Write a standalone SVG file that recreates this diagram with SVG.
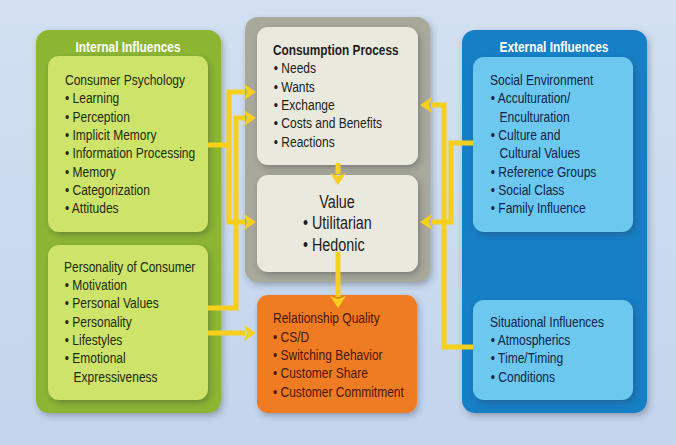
<svg xmlns="http://www.w3.org/2000/svg" width="676" height="445" viewBox="0 0 676 445">
<defs>
<linearGradient id="bg" x1="0" y1="0" x2="0" y2="1">
<stop offset="0" stop-color="#d2e0f2"/>
<stop offset="1" stop-color="#c3d5ec"/>
</linearGradient>
<filter id="sh" x="-20%" y="-20%" width="140%" height="140%">
<feDropShadow dx="2" dy="3" stdDeviation="3" flood-color="#334" flood-opacity="0.35"/>
</filter>
<marker id="arr" viewBox="0 0 12 16" markerWidth="12" markerHeight="16" markerUnits="userSpaceOnUse" refX="1" refY="8" orient="auto">
<path d="M0,0 L12,8 L0,16 L3,8 z" fill="#f6d01c"/>
</marker>
</defs>
<style>
text{font-family:"Liberation Sans",Arial,sans-serif;font-size:15px}
.g{fill:#1f2a12}
.b{fill:#0f2446}
.o{fill:#4a160c}
.k{fill:#1e1e1a}
.title{fill:#ffffff;font-weight:bold;font-size:14.5px}
.bold{font-weight:bold;font-size:14.8px}
.big{font-size:17.5px}
.con{fill:none;stroke:#f6d01c;stroke-width:5;stroke-linejoin:miter}
</style>
<rect x="0" y="0" width="676" height="445" fill="url(#bg)"/>

<g id="internal">
<rect x="36" y="30" width="185" height="383" rx="13" fill="#8cb632" filter="url(#sh)"/>
<g transform="translate(128 0) scale(0.82 1)"><text class="title" x="0" y="52" text-anchor="middle">Internal Influences</text></g>
</g>
<g id="consumer-psychology">
<rect x="48" y="56" width="160" height="176" rx="11" fill="#cde36b" filter="url(#sh)"/>
<g class="g" transform="translate(65 0) scale(0.8 1)">
<text x="0" y="85">Consumer Psychology</text>
<text x="0" y="103">• Learning</text>
<text x="0" y="122">• Perception</text>
<text x="0" y="140">• Implicit Memory</text>
<text x="0" y="158">• Information Processing</text>
<text x="0" y="177">• Memory</text>
<text x="0" y="195">• Categorization</text>
<text x="0" y="213">• Attitudes</text>
</g>
</g>
<g id="personality">
<rect x="48" y="245" width="160" height="155" rx="11" fill="#cde36b" filter="url(#sh)"/>
<g class="g" transform="translate(64 0) scale(0.8 1)">
<text x="0" y="272">Personality of Consumer</text>
<text x="1" y="290">• Motivation</text>
<text x="1" y="308">• Personal Values</text>
<text x="1" y="327">• Personality</text>
<text x="1" y="345">• Lifestyles</text>
<text x="1" y="363">• Emotional</text>
<text x="12" y="382">Expressiveness</text>
</g>
</g>

<g id="core">
<rect x="245" y="17" width="185" height="265" rx="13" fill="#a8a99b" filter="url(#sh)"/>
</g>
<g id="consumption-process">
<rect x="257" y="27" width="161" height="138" rx="11" fill="#eae9dd" filter="url(#sh)"/>
<g class="k" transform="translate(273 0) scale(0.8 1)">
<text class="bold" x="0" y="55">Consumption Process</text>
<text x="1" y="73">• Needs</text>
<text x="1" y="92">• Wants</text>
<text x="1" y="110">• Exchange</text>
<text x="1" y="128">• Costs and Benefits</text>
<text x="1" y="147">• Reactions</text>
</g>
</g>
<g id="value">
<rect x="257" y="175" width="161" height="97" rx="11" fill="#eae9dd" filter="url(#sh)"/>
<g class="k" transform="translate(337 0) scale(0.82 1)"><text class="big" x="0" y="208" text-anchor="middle">Value</text></g>
<g class="k" transform="translate(303 0) scale(0.82 1)">
<text class="big" x="0" y="229">• Utilitarian</text>
<text class="big" x="0" y="251">• Hedonic</text>
</g>
</g>
<g id="relationship-quality">
<rect x="257" y="295" width="160" height="118" rx="11" fill="#ef7c22" filter="url(#sh)"/>
<g class="o" transform="translate(273 0) scale(0.8 1)">
<text x="0" y="323">Relationship Quality</text>
<text x="0" y="342">• CS/D</text>
<text x="0" y="360">• Switching Behavior</text>
<text x="0" y="378">• Customer Share</text>
<text x="0" y="397">• Customer Commitment</text>
</g>
</g>

<g id="external">
<rect x="462" y="30" width="185" height="383" rx="13" fill="#1580c6" filter="url(#sh)"/>
<g transform="translate(554 0) scale(0.82 1)"><text class="title" x="0" y="52" text-anchor="middle">External Influences</text></g>
</g>
<g id="social-environment">
<rect x="473" y="57" width="160" height="175" rx="11" fill="#6dc8f0" filter="url(#sh)"/>
<g class="b" transform="translate(490 0) scale(0.8 1)">
<text x="0" y="85">Social Environment</text>
<text x="1" y="103">• Acculturation/</text>
<text x="12" y="122">Enculturation</text>
<text x="1" y="140">• Culture and</text>
<text x="12" y="158">Cultural Values</text>
<text x="1" y="177">• Reference Groups</text>
<text x="1" y="195">• Social Class</text>
<text x="1" y="213">• Family Influence</text>
</g>
</g>
<g id="situational">
<rect x="473" y="300" width="160" height="100" rx="11" fill="#6dc8f0" filter="url(#sh)"/>
<g class="b" transform="translate(490 0) scale(0.8 1)">
<text x="0" y="327">Situational Influences</text>
<text x="1" y="345">• Atmospherics</text>
<text x="1" y="363">• Time/Timing</text>
<text x="1" y="382">• Conditions</text>
</g>
</g>

<g id="connectors">
<path class="con" d="M208,145 H229 V92 H245" marker-end="url(#arr)"/>
<path class="con" d="M229,145 V222 H245" marker-end="url(#arr)"/>
<path class="con" d="M208,308 H236 V118 H245" marker-end="url(#arr)"/>
<path class="con" d="M208,333 H245" marker-end="url(#arr)"/>
<path class="con" d="M473,347 H444 V105 H431" marker-end="url(#arr)"/>
<path class="con" d="M473,143 H451 V222 H431" marker-end="url(#arr)"/>
<path class="con" d="M338,163 V174" marker-end="url(#arr)"/>
<path class="con" d="M338,252 V297" marker-end="url(#arr)"/>
</g>
</svg>
